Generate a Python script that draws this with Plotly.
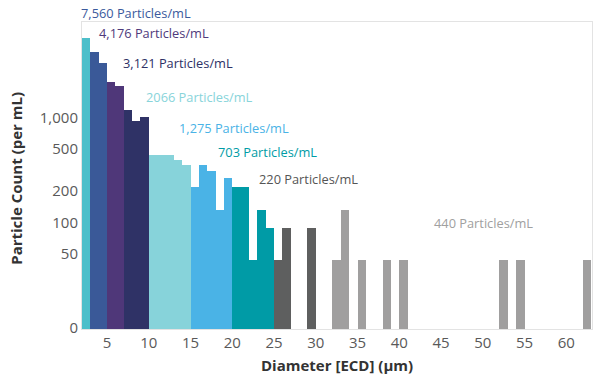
import plotly.graph_objects as go

# Bin start diameters (µm) and particle counts (per mL), grouped by size class
groups = [
    {"name": "2-3 µm",   "color": "#4dbfca", "bins": [2],                  "counts": [5750]},
    {"name": "3-5 µm",   "color": "#3a5998", "bins": [3, 4],               "counts": [4224, 3344]},
    {"name": "5-7 µm",   "color": "#4f3779", "bins": [5, 6],               "counts": [2200, 1980]},
    {"name": "7-10 µm",  "color": "#2f3266", "bins": [7, 8, 9],            "counts": [1188, 924, 1012]},
    {"name": "10-15 µm", "color": "#87d3da", "bins": [10, 11, 12, 13, 14], "counts": [440, 440, 440, 396, 352]},
    {"name": "15-20 µm", "color": "#4ab3e6", "bins": [15, 16, 17, 18, 19], "counts": [220, 352, 308, 132, 264]},
    {"name": "20-25 µm", "color": "#009ba6", "bins": [20, 21, 22, 23, 24], "counts": [220, 220, 44, 132, 88]},
    {"name": "25-30 µm", "color": "#5e5f5f", "bins": [25, 26, 29],         "counts": [44, 88, 88]},
    {"name": ">30 µm",   "color": "#a09f9f", "bins": [32, 33, 35, 38, 40, 52, 54, 62],
     "counts": [44, 132, 44, 44, 44, 44, 44, 44]},
]

# Totals labels
label_texts = ["7,560 Particles/mL", "4,176 Particles/mL", "3,121 Particles/mL", "2066 Particles/mL",
               "1,275 Particles/mL", "703 Particles/mL", "220 Particles/mL", "440 Particles/mL"]
label_colors = ["#3b5a9d", "#4f3a7c", "#2e3166", "#88d4da", "#4ab3e6", "#009ca6", "#555555", "#a0a0a0"]
label_x = [-0.005, 0.030, 0.077, 0.121, 0.186, 0.263, 0.343, 0.687]   # paper fraction
label_y = [1.030, 0.964, 0.866, 0.757, 0.654, 0.576, 0.488, 0.344]    # paper fraction

y_tickvals = [10, 50, 100, 200, 500, 1000]
y_ticktext = ["0", "50", "100", "200", "500", "1,000"]
x_tickvals = [5, 10, 15, 20, 25, 30, 35, 40, 45, 50, 55, 60]

fig = go.Figure()
for g in groups:
    fig.add_trace(go.Bar(
        x=[b + 0.5 for b in g["bins"]], y=g["counts"], width=1.0,
        marker=dict(color=g["color"], line=dict(width=0)),
        name=g["name"], showlegend=False, hoverinfo="x+y",
    ))

for t, c, xx, yy in zip(label_texts, label_colors, label_x, label_y):
    fig.add_annotation(text=t, x=xx, y=yy, xref="paper", yref="paper", xanchor="left", yanchor="middle",
                       showarrow=False, font=dict(color=c, size=12.8, family="Open Sans"))

fig.add_annotation(text="<b>Particle Count (per mL)</b>", textangle=-90, x=-0.131, y=0.49,
                   xref="paper", yref="paper", xanchor="center", yanchor="middle", showarrow=False,
                   font=dict(size=15, color="#333333", family="Open Sans"))
fig.add_annotation(text="<b>Diameter [ECD] (µm)</b>", x=0.5, y=-0.117,
                   xref="paper", yref="paper", xanchor="center", yanchor="middle", showarrow=False,
                   font=dict(size=15, color="#333333", family="Open Sans"))

fig.update_layout(
    width=602, height=375,
    margin=dict(l=82, r=10, t=22, b=46, autoexpand=False),
    paper_bgcolor="white", plot_bgcolor="white",
    barmode="overlay", bargap=0,
    font=dict(family="Open Sans", color="#595959", size=15),
    xaxis=dict(range=[2, 63.08], tickvals=x_tickvals, showgrid=False, zeroline=False, automargin=False,
               showline=True, linecolor="#e3e3e3", linewidth=1, mirror=True,
               ticks="", tickfont=dict(size=15, color="#595959")),
    yaxis=dict(type="log", range=[0.986, 3.91], tickvals=y_tickvals, ticktext=y_ticktext, automargin=False,
               showgrid=False, zeroline=False, showline=True, linecolor="#e3e3e3", linewidth=1,
               mirror=True, ticks="", tickfont=dict(size=15, color="#595959")),
)

fig.write_html("out.html", config={"displayModeBar": False},
               post_script="document.body.style.margin='0px';document.body.style.overflow='hidden';")
